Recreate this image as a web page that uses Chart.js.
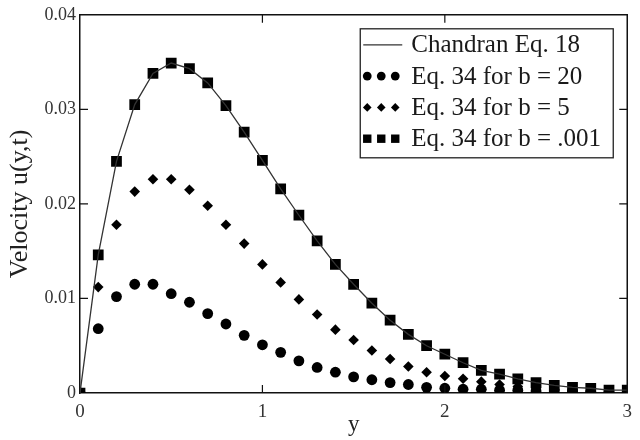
<!DOCTYPE html>
<html>
<head>
<meta charset="utf-8">
<script src="https://cdn.jsdelivr.net/npm/chart.js@4.4.1/dist/chart.umd.min.js"></script>
<style>
html,body{margin:0;padding:0;background:#ffffff;}
#wrap{width:640px;height:440px;position:relative;}
</style>
</head>
<body>
<div id="wrap"><canvas id="c" width="640" height="440"></canvas></div>
<script>
// ---- data ----
const yPositions = [0, 0.1, 0.2, 0.3, 0.4, 0.5, 0.6, 0.7, 0.8, 0.9, 1.0,
  1.1, 1.2, 1.3, 1.4, 1.5, 1.6, 1.7, 1.8, 1.9, 2.0,
  2.1, 2.2, 2.3, 2.4, 2.5, 2.6, 2.7, 2.8, 2.9, 3.0];

const chandranEq18 = [0, 0.0146, 0.0245, 0.0305, 0.0338, 0.0349, 0.0343, 0.0328, 0.0304, 0.0276, 0.0246,
  0.0216, 0.0188, 0.0161, 0.0136, 0.0115, 0.0095, 0.0077, 0.0062, 0.0050, 0.0041,
  0.0032, 0.0024, 0.0020, 0.0015, 0.0011, 0.0008, 0.0006, 0.0005, 0.0003, 0.0003];

const eq34_b20 = [0, 0.0068, 0.0102, 0.0115, 0.0115, 0.0105, 0.0096, 0.0084, 0.0073, 0.0061, 0.0051,
  0.0043, 0.0034, 0.0027, 0.0022, 0.0017, 0.0014, 0.0011, 0.0009, 0.0006, 0.0005,
  0.0004, 0.0004, 0.0003, 0.0003, 0.0002, 0.0002, 0.0002, 0.0001, 0.0001, 0.0001];

const eq34_b5 = [0, 0.0112, 0.0178, 0.0213, 0.0226, 0.0226, 0.0215, 0.0198, 0.0178, 0.0158, 0.0136,
  0.0117, 0.0099, 0.0083, 0.0067, 0.0056, 0.0045, 0.0036, 0.0028, 0.0022, 0.0018,
  0.0015, 0.0012, 0.0009, 0.0007, 0.0005, 0.0004, 0.0003, 0.0002, 0.0002, 0.0001];

const eq34_b001 = [0, 0.0146, 0.0245, 0.0305, 0.0338, 0.0349, 0.0343, 0.0328, 0.0304, 0.0276, 0.0246,
  0.0216, 0.0188, 0.0161, 0.0136, 0.0115, 0.0095, 0.0077, 0.0062, 0.0050, 0.0041,
  0.0032, 0.0024, 0.0020, 0.0015, 0.0011, 0.0008, 0.0006, 0.0005, 0.0003, 0.0003];

const seriesLabels = ['Chandran Eq. 18', 'Eq. 34 for b = 20', 'Eq. 34 for b = 5', 'Eq. 34 for b = .001'];
const xTickLabels = ['0', '1', '2', '3'];
const yTickLabels = ['0', '0.01', '0.02', '0.03', '0.04'];
const xTitle = 'y';
const yTitle = 'Velocity u(y,t)';

// ---- helpers ----
function toXY(vals) { return vals.map((v, i) => ({x: yPositions[i], y: v})); }

const SERIF = "'Liberation Serif', 'Times New Roman', serif";

function drawMarker(ctx, style, x, y, r) {
  ctx.beginPath();
  if (style === 'circle') {
    ctx.arc(x, y, r, 0, Math.PI * 2);
  } else if (style === 'rectRot') {
    ctx.moveTo(x, y - r); ctx.lineTo(x + r, y); ctx.lineTo(x, y + r); ctx.lineTo(x - r, y); ctx.closePath();
  } else {
    ctx.rect(x - r, y - r, 2 * r, 2 * r);
  }
  ctx.fill();
}

const framePlugin = {
  id: 'frame',
  afterDraw(chart) {
    const {ctx, chartArea: a, scales} = chart;
    ctx.save();
    // frame top & right
    ctx.strokeStyle = '#111';
    ctx.lineWidth = 1.5;
    ctx.beginPath();
    ctx.moveTo(a.left, a.top); ctx.lineTo(a.right, a.top); ctx.lineTo(a.right, a.bottom);
    ctx.stroke();
    // inward ticks
    const tl = 8;
    ctx.lineWidth = 1.2;
    ctx.beginPath();
    scales.x.ticks.forEach(t => {
      const px = scales.x.getPixelForValue(t.value);
      if (px <= a.left + 1 || px >= a.right - 1) return;
      ctx.moveTo(px, a.bottom); ctx.lineTo(px, a.bottom - tl);
      ctx.moveTo(px, a.top); ctx.lineTo(px, a.top + tl);
    });
    scales.y.ticks.forEach(t => {
      const py = scales.y.getPixelForValue(t.value);
      if (py >= a.bottom - 1 || py <= a.top + 1) return;
      ctx.moveTo(a.left, py); ctx.lineTo(a.left + tl, py);
      ctx.moveTo(a.right, py); ctx.lineTo(a.right - tl, py);
    });
    ctx.stroke();

    // legend box
    const bx = a.right - 267, by = a.top + 14, bw = 253, bh = 129;
    ctx.fillStyle = '#fff';
    ctx.fillRect(bx, by, bw, bh);
    ctx.strokeStyle = '#222';
    ctx.lineWidth = 1.3;
    ctx.strokeRect(bx, by, bw, bh);
    ctx.font = '25px ' + SERIF;
    ctx.textBaseline = 'middle';
    ctx.textAlign = 'left';
    chart.data.datasets.forEach((ds, i) => {
      const cy = by + 16 + i * 31.3;
      if (ds.showLine) {
        ctx.strokeStyle = ds.borderColor;
        ctx.lineWidth = ds.borderWidth;
        ctx.beginPath(); ctx.moveTo(bx + 3, cy); ctx.lineTo(bx + 42, cy); ctx.stroke();
      } else {
        ctx.fillStyle = '#000';
        const r = ds.pointStyle === 'circle' ? 4.4 : (ds.pointStyle === 'rectRot' ? 4.3 : 4.2);
        [7, 21, 35].forEach(dx => drawMarker(ctx, ds.pointStyle, bx + dx, cy, r));
      }
      ctx.fillStyle = '#1a1a1a';
      ctx.fillText(ds.label, bx + 51, cy + 1);
    });
    ctx.restore();
  }
};

new Chart(document.getElementById('c'), {
  type: 'scatter',
  data: {
    datasets: [
      {label: seriesLabels[0], data: toXY(chandranEq18), showLine: true, pointRadius: 0,
       borderColor: '#333', borderWidth: 1.3, tension: 0, order: 0},
      {label: seriesLabels[1], data: toXY(eq34_b20), showLine: false, pointStyle: 'circle',
       pointRadius: 5.4, backgroundColor: '#000', borderColor: '#000', borderWidth: 0, clip: 0, order: 3},
      {label: seriesLabels[2], data: toXY(eq34_b5), showLine: false, pointStyle: 'rectRot',
       pointRadius: 5.3, backgroundColor: '#000', borderColor: '#000', borderWidth: 0, clip: 0, order: 2},
      {label: seriesLabels[3], data: toXY(eq34_b001), showLine: false, pointStyle: 'rect',
       pointRadius: 7.6, backgroundColor: '#000', borderColor: '#000', borderWidth: 0, clip: 0, order: 1}
    ]
  },
  options: {
    responsive: false,
    animation: false,
    devicePixelRatio: 1,
    events: [],
    layout: {padding: {left: 0, right: 7, top: 13, bottom: 0}},
    plugins: {legend: {display: false}, tooltip: {enabled: false}, title: {display: false}},
    scales: {
      x: {
        type: 'linear', min: 0, max: 3,
        afterFit: s => { s.height = 47; },
        grid: {display: false, drawTicks: false},
        border: {display: true, color: '#111', width: 1.5},
        ticks: {stepSize: 1, padding: 8, color: '#333', font: {family: SERIF, size: 19},
                maxRotation: 0, callback: (v, i) => xTickLabels[i]},
        title: {display: true, text: xTitle, color: '#222', font: {family: SERIF, size: 23},
                padding: {top: 0, bottom: 1}}
      },
      y: {
        type: 'linear', min: 0, max: 0.04,
        afterFit: s => { s.width = 80; },
        grid: {display: false, drawTicks: false},
        border: {display: true, color: '#111', width: 1.5},
        ticks: {stepSize: 0.01, padding: 4, color: '#333', font: {family: SERIF, size: 18},
                callback: (v, i) => yTickLabels[i]},
        title: {display: true, text: yTitle, color: '#222', font: {family: SERIF, size: 26},
                padding: {top: 5, bottom: 0}}
      }
    }
  },
  plugins: [framePlugin]
});
</script>
</body>
</html>
